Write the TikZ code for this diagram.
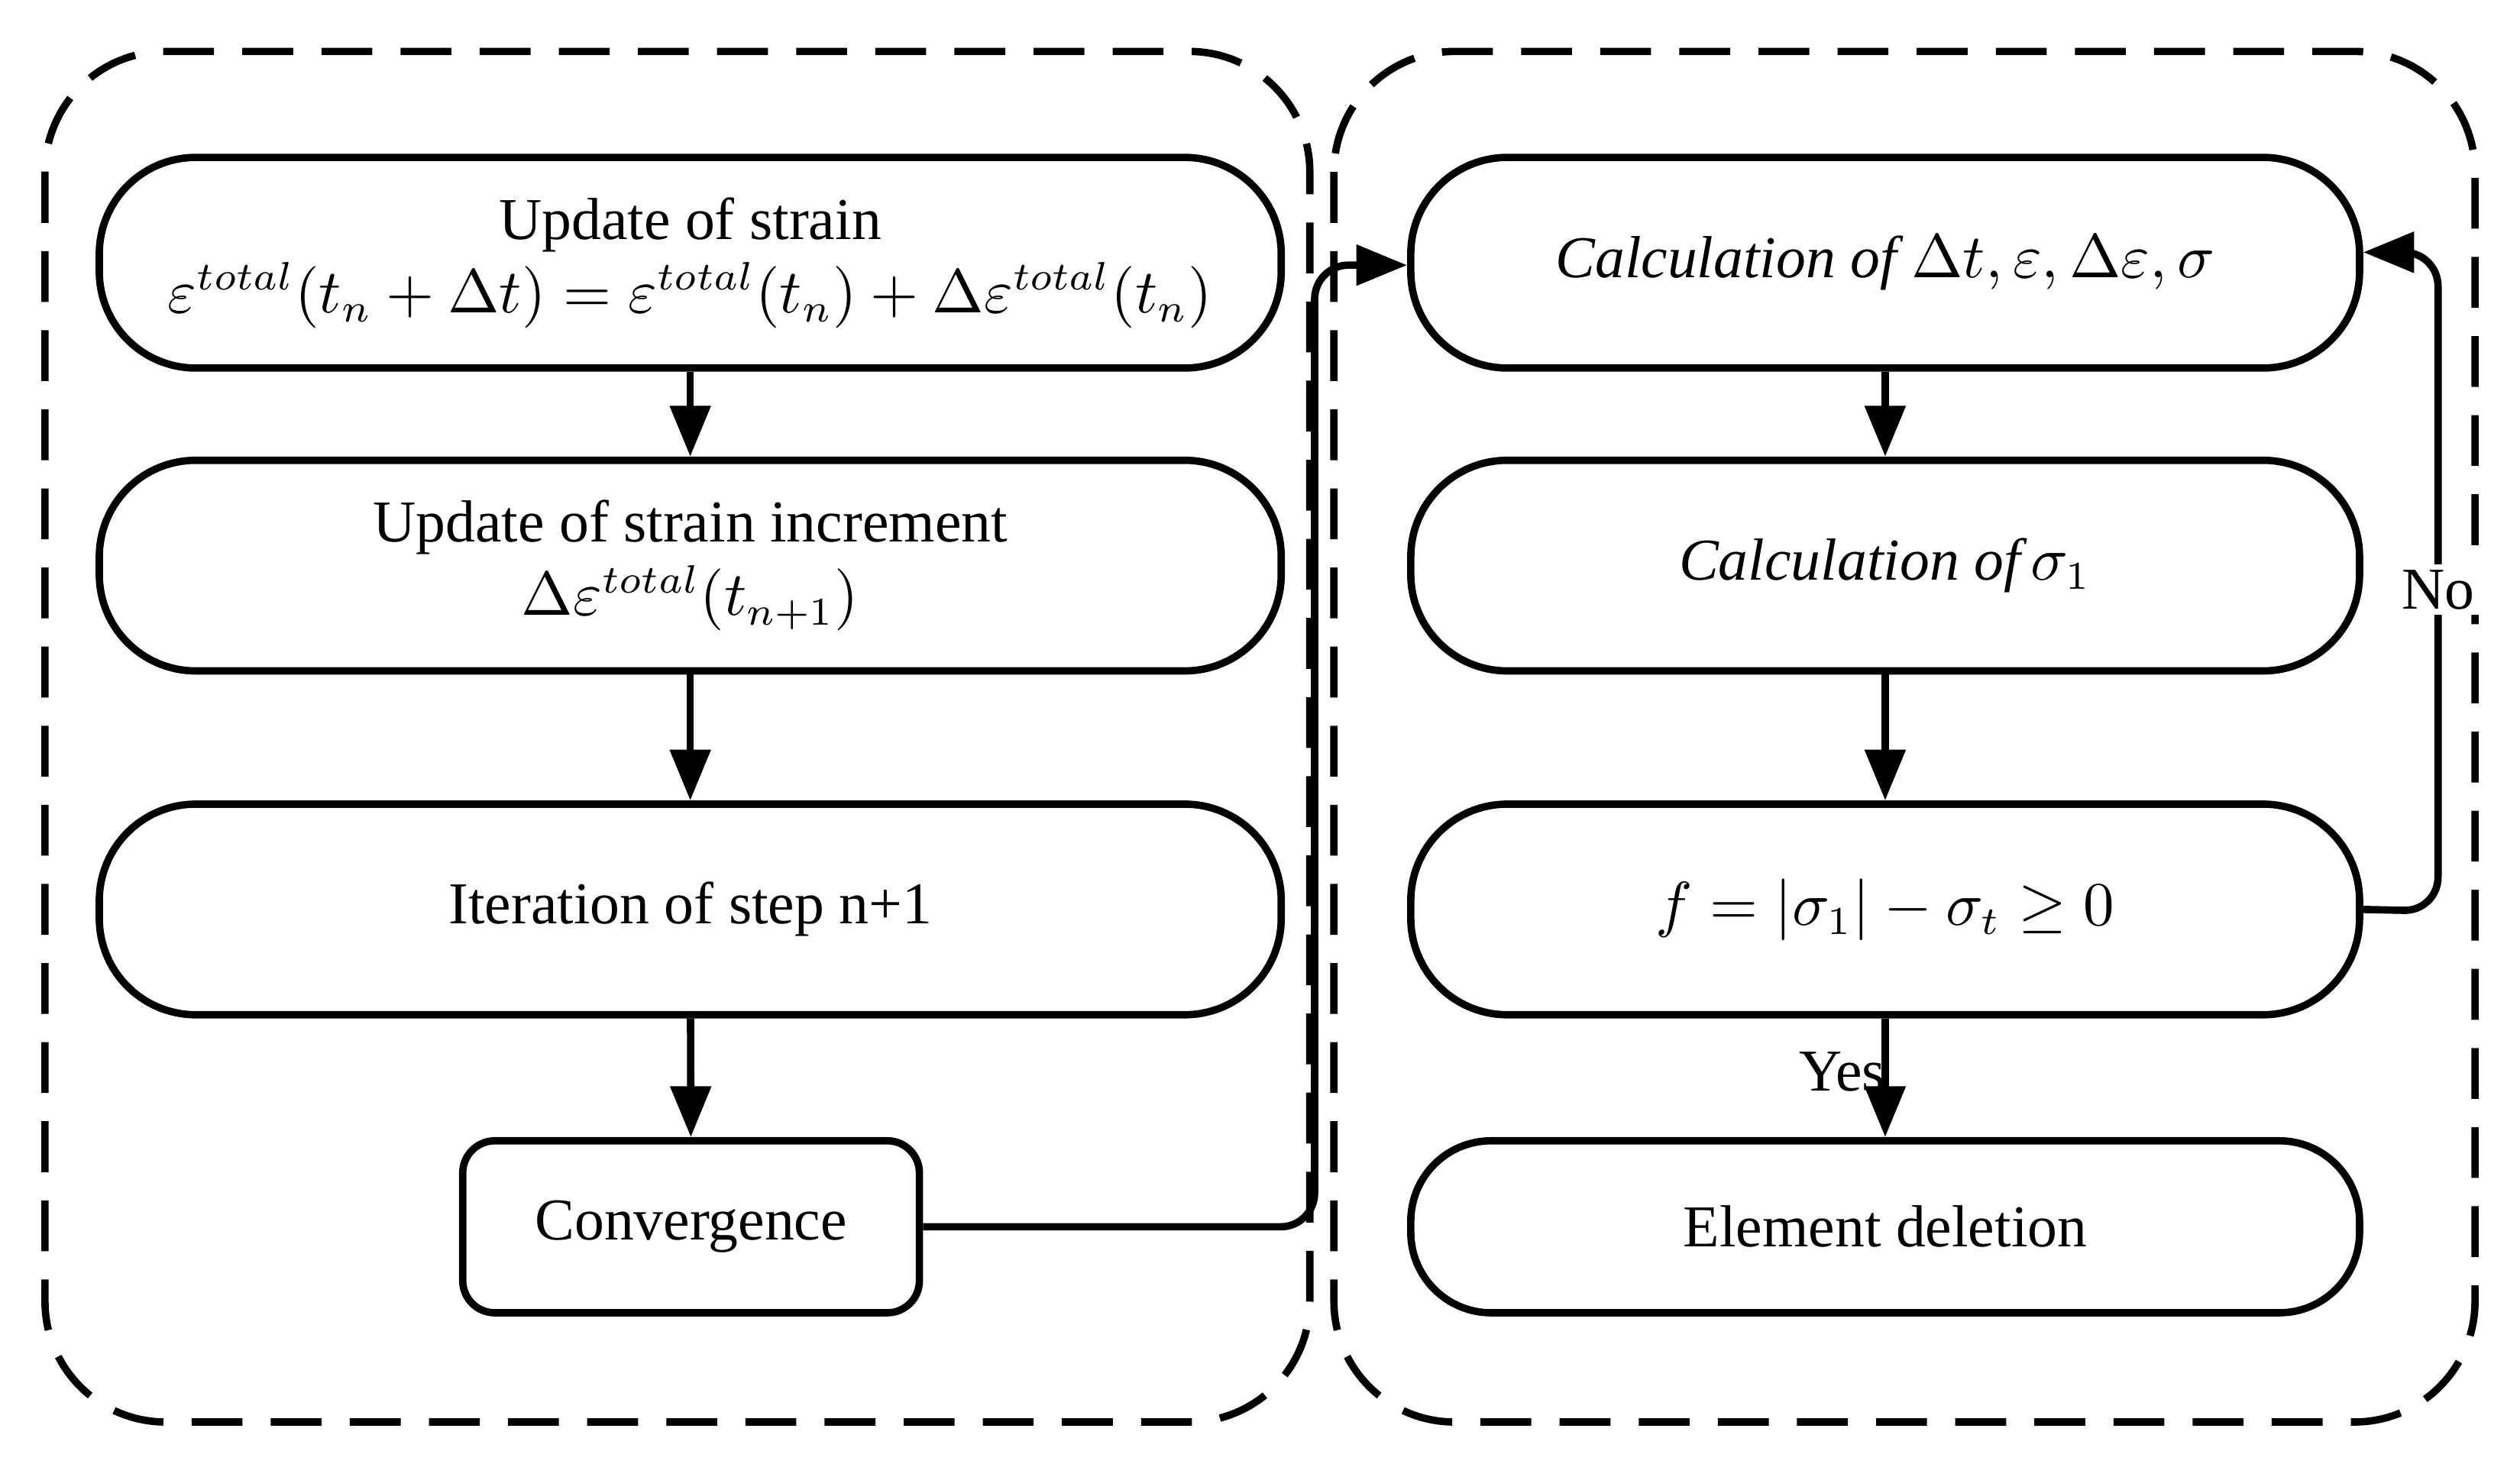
\documentclass[tikz,border=0pt]{standalone}
\usepackage{fontspec}
\setmainfont{Liberation Serif}
\usetikzlibrary{arrows.meta}
\begin{document}
\begin{tikzpicture}[x=0.01cm,y=-0.01cm,
 box/.style={draw,line width=1.3pt,rounded corners=0.6cm,minimum height=1.31cm,font=\fontsize{10.5}{12}\selectfont,align=center,inner sep=0pt},
 lbox/.style={box,minimum width=7.35cm},
 rbox/.style={box,minimum width=5.9cm},
 dbox/.style={draw,line width=1.3pt,dash pattern=on 9pt off 5pt,rounded corners=0.75cm},
 arr/.style={line width=1.3pt,-{Triangle[length=9pt,width=7pt]}}]
\useasboundingbox (0,0) rectangle (1568,911);
\draw[dbox] (28,32) rectangle (815,885);
\draw[dbox] (830,32) rectangle (1540,885);
\node[lbox] (l1) at (429.5,163.5) {Update of strain\\[1pt] $\varepsilon^{total}(t_n+\Delta t)=\varepsilon^{total}(t_n)+\Delta\varepsilon^{total}(t_n)$};
\node[lbox] (l2) at (429.5,352) {Update of strain increment\\[1pt] $\Delta\varepsilon^{total}(t_{n+1})$};
\node[lbox] (l3) at (429.5,566) {Iteration of step n+1};
\node[box,rounded corners=0.2cm,minimum width=2.84cm,minimum height=1.07cm] (l4) at (430,763.5) {Convergence};
\node[rbox] (r1) at (1173,163.5) {$\mathit{Calculation\ of}\ \Delta t,\varepsilon,\Delta\varepsilon,\sigma$};
\node[rbox] (r2) at (1173,352) {$\mathit{Calculation\ of}\,\sigma_1$};
\node[rbox] (r3) at (1173,566) {$f=|\sigma_1|-\sigma_t\geq 0$};
\node[rbox,minimum height=1.07cm,rounded corners=0.5cm] (r4) at (1173,763.5) {Element deletion};
\draw[arr] (l1) -- (l2);
\draw[arr] (l2) -- (l3);
\draw[arr] (l3) -- (l4);
\draw[arr] (r1) -- (r2);
\draw[arr] (r2) -- (r3);
\draw[arr] (r3) -- node[pos=0.45,left=-4pt,font=\fontsize{10.5}{12}\selectfont]{Yes} (r4);
\coordinate (c1) at (818,763.5);
\coordinate (c2) at (818,165);
\draw[arr,rounded corners=6pt] (l4.east) -- (c1) -- (c2) -- (r1.west|-c2);
\coordinate (n1) at (1517,567);
\coordinate (n2) at (1517,157);
\draw[arr,rounded corners=6pt] (r3.east) -- (n1) -- (n2) -- (r1.east|-n2);
\node[fill=white,inner sep=1pt,font=\fontsize{10.5}{12}\selectfont] (no) at (1517,367) {No};
\end{tikzpicture}
\end{document}
